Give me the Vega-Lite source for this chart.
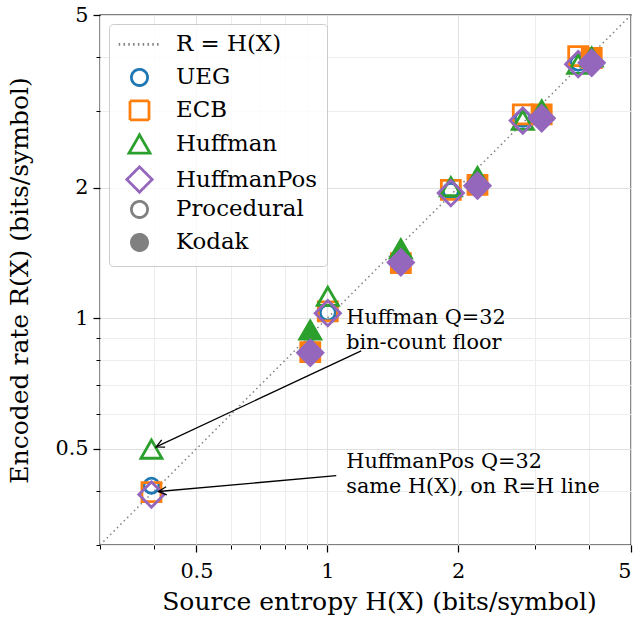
{
  "$schema": "https://vega.github.io/schema/vega-lite/v6.json",
  "width": 531,
  "height": 530,
  "autosize": {"type": "none"},
  "padding": {"left": 100, "top": 15, "right": 6, "bottom": 77},
  "background": "white",
  "config": {
    "font": "DejaVu Serif",
    "view": {"stroke": "black", "strokeWidth": 1.3},
    "axis": {
      "domain": false,
      "labelFont": "DejaVu Serif",
      "labelFontSize": 20.8,
      "labelColor": "black",
      "titleFont": "DejaVu Serif",
      "titleFontSize": 25,
      "titleFontWeight": "normal",
      "titleColor": "black",
      "tickColor": "black",
      "tickWidth": 1.25
    },
    "legend": {
      "orient": "top-left",
      "offset": 9,
      "padding": 9,
      "fillColor": "rgba(255,255,255,0.8)",
      "strokeColor": "#cccccc",
      "cornerRadius": 4,
      "labelFont": "DejaVu Serif",
      "labelFontSize": 22.9,
      "labelColor": "black",
      "rowPadding": -6,
      "gridAlign": "all",
      "labelOffset": 22,
      "symbolOffset": 7,
      "symbolStrokeWidth": 2.8
    }
  },
  "datasets": {
    "diag": [{"H": 0.3, "R": 0.3}, {"H": 5, "R": 5}],
    "points": [
      {"dataset": "Procedural", "method": "UEG", "H": 0.394, "R": 0.411},
      {"dataset": "Procedural", "method": "UEG", "H": 1.003, "R": 1.03},
      {"dataset": "Procedural", "method": "UEG", "H": 1.925, "R": 1.965},
      {"dataset": "Procedural", "method": "UEG", "H": 2.818, "R": 2.88},
      {"dataset": "Procedural", "method": "UEG", "H": 3.78, "R": 3.88},
      {"dataset": "Procedural", "method": "ECB", "H": 0.394, "R": 0.397},
      {"dataset": "Procedural", "method": "ECB", "H": 1.003, "R": 1.037},
      {"dataset": "Procedural", "method": "ECB", "H": 1.925, "R": 1.976},
      {"dataset": "Procedural", "method": "ECB", "H": 2.818, "R": 2.95},
      {"dataset": "Procedural", "method": "ECB", "H": 3.78, "R": 4.02},
      {"dataset": "Procedural", "method": "Huffman", "H": 0.394, "R": 0.499},
      {"dataset": "Procedural", "method": "Huffman", "H": 1.003, "R": 1.123},
      {"dataset": "Procedural", "method": "Huffman", "H": 1.925, "R": 2.01},
      {"dataset": "Procedural", "method": "Huffman", "H": 2.818, "R": 2.86},
      {"dataset": "Procedural", "method": "Huffman", "H": 3.78, "R": 3.85},
      {"dataset": "Procedural", "method": "HuffmanPos", "H": 0.394, "R": 0.392},
      {"dataset": "Procedural", "method": "HuffmanPos", "H": 1.003, "R": 1.027},
      {"dataset": "Procedural", "method": "HuffmanPos", "H": 1.925, "R": 1.943},
      {"dataset": "Procedural", "method": "HuffmanPos", "H": 2.818, "R": 2.855},
      {"dataset": "Procedural", "method": "HuffmanPos", "H": 3.78, "R": 3.85},
      {"dataset": "Kodak", "method": "UEG", "H": 0.914, "R": 0.85},
      {"dataset": "Kodak", "method": "UEG", "H": 1.477, "R": 1.36},
      {"dataset": "Kodak", "method": "UEG", "H": 2.217, "R": 2.04},
      {"dataset": "Kodak", "method": "UEG", "H": 3.115, "R": 2.92},
      {"dataset": "Kodak", "method": "UEG", "H": 4.06, "R": 3.92},
      {"dataset": "Kodak", "method": "ECB", "H": 0.914, "R": 0.835},
      {"dataset": "Kodak", "method": "ECB", "H": 1.477, "R": 1.34},
      {"dataset": "Kodak", "method": "ECB", "H": 2.217, "R": 2.03},
      {"dataset": "Kodak", "method": "ECB", "H": 3.115, "R": 2.95},
      {"dataset": "Kodak", "method": "ECB", "H": 4.06, "R": 3.98},
      {"dataset": "Kodak", "method": "Huffman", "H": 0.914, "R": 0.939},
      {"dataset": "Kodak", "method": "Huffman", "H": 1.477, "R": 1.445},
      {"dataset": "Kodak", "method": "Huffman", "H": 2.217, "R": 2.12},
      {"dataset": "Kodak", "method": "Huffman", "H": 3.115, "R": 3.02},
      {"dataset": "Kodak", "method": "Huffman", "H": 4.06, "R": 4.0},
      {"dataset": "Kodak", "method": "HuffmanPos", "H": 0.914, "R": 0.832},
      {"dataset": "Kodak", "method": "HuffmanPos", "H": 1.477, "R": 1.344},
      {"dataset": "Kodak", "method": "HuffmanPos", "H": 2.217, "R": 2.02},
      {"dataset": "Kodak", "method": "HuffmanPos", "H": 3.115, "R": 2.89},
      {"dataset": "Kodak", "method": "HuffmanPos", "H": 4.06, "R": 3.88}
    ],
    "keys": [
      {"key": "R = H(X)"}, {"key": "UEG"}, {"key": "ECB"}, {"key": "Huffman"},
      {"key": "HuffmanPos"}, {"key": "Procedural"}, {"key": "Kodak"}
    ],
    "notes": [
      {"H": 1.106, "R": 1.0, "label": ["Huffman Q=32", "bin-count floor"]},
      {"H": 1.106, "R": 0.4654, "label": ["HuffmanPos Q=32", "same H(X), on R=H line"]}
    ],
    "arrows": [
      {"id": 1, "x1": 1.197, "y1": 0.841, "x2": 0.404, "y2": 0.505},
      {"id": 2, "x1": 1.049, "y1": 0.4335, "x2": 0.409, "y2": 0.3985}
    ]
  },
  "layer": [
    {
      "data": {"name": "diag"},
      "mark": {"type": "line", "color": "#808080", "strokeDash": [1.5, 3.3], "strokeWidth": 1.5, "clip": true},
      "encoding": {
        "x": {"field": "H", "type": "quantitative",
          "scale": {"type": "log", "domain": [0.3, 5], "nice": false},
          "axis": {"orient": "bottom", "values": [0.3, 0.4, 0.6, 0.7, 0.8, 0.9, 3, 4], "labels": false, "tickSize": 4, "tickWidth": 1, "grid": true, "gridColor": "#ededed", "gridWidth": 1, "title": null}},
        "y": {"field": "R", "type": "quantitative",
          "scale": {"type": "log", "domain": [0.3, 5], "nice": false},
          "axis": {"orient": "left", "values": [0.3, 0.4, 0.6, 0.7, 0.8, 0.9, 3, 4], "labels": false, "tickSize": 4, "tickWidth": 1, "grid": true, "gridColor": "#ededed", "gridWidth": 1, "title": null}}
      }
    },
    {
      "data": {"name": "points"},
      "mark": {"type": "point", "strokeWidth": 2.8, "opacity": 1},
      "encoding": {
        "x": {"field": "H", "type": "quantitative",
          "scale": {"type": "log", "domain": [0.3, 5], "nice": false},
          "axis": {"orient": "bottom", "values": [0.5, 1, 2, 5], "format": "~g", "tickSize": 7, "grid": true, "gridColor": "#e0e0e0", "labelPadding": 9, "titlePadding": 9, "titleX": 279, "title": "Source entropy H(X) (bits/symbol)"}},
        "y": {"field": "R", "type": "quantitative",
          "scale": {"type": "log", "domain": [0.3, 5], "nice": false},
          "axis": {"orient": "left", "values": [0.5, 1, 2, 5], "format": "~g", "tickSize": 7, "grid": true, "gridColor": "#e0e0e0", "labelPadding": 5, "titlePadding": 22, "title": "Encoded rate R(X) (bits/symbol)"}},
        "shape": {"field": "method", "type": "nominal",
          "scale": {"domain": ["UEG", "ECB", "Huffman", "HuffmanPos"], "range": ["circle", "square", "triangle-up", "diamond"]}, "legend": null},
        "size": {"field": "method", "type": "nominal",
          "scale": {"type": "ordinal", "domain": ["UEG", "ECB", "Huffman", "HuffmanPos"], "range": [227, 361, 441, 640]}, "legend": null},
        "stroke": {"field": "method", "type": "nominal",
          "scale": {"domain": ["UEG", "ECB", "Huffman", "HuffmanPos"], "range": ["#1f77b4", "#ff7f0e", "#2ca02c", "#9467bd"]}, "legend": null},
        "fill": {
          "condition": {"test": "datum.dataset === 'Kodak'", "field": "method", "type": "nominal",
            "scale": {"domain": ["UEG", "ECB", "Huffman", "HuffmanPos"], "range": ["#1f77b4", "#ff7f0e", "#2ca02c", "#9467bd"]}, "legend": null},
          "value": "transparent"
        }
      }
    },
    {
      "data": {"name": "arrows"},
      "mark": {"type": "rule", "color": "black", "strokeWidth": 1.3},
      "encoding": {
        "x": {"field": "x1", "type": "quantitative", "scale": {"type": "log", "domain": [0.3, 5], "nice": false}, "axis": null},
        "y": {"field": "y1", "type": "quantitative", "scale": {"type": "log", "domain": [0.3, 5], "nice": false}, "axis": null},
        "x2": {"field": "x2"},
        "y2": {"field": "y2"}
      }
    },
    {
      "data": {"name": "arrows"},
      "transform": [{"filter": "datum.id === 1"}],
      "mark": {"type": "point", "shape": "M-2,-1L0,0L-2,1", "size": 64, "filled": false, "stroke": "black", "strokeWidth": 1.3, "opacity": 1, "angle": 154.7},
      "encoding": {
        "x": {"field": "x2", "type": "quantitative", "scale": {"type": "log", "domain": [0.3, 5], "nice": false}, "axis": null},
        "y": {"field": "y2", "type": "quantitative", "scale": {"type": "log", "domain": [0.3, 5], "nice": false}, "axis": null}
      }
    },
    {
      "data": {"name": "arrows"},
      "transform": [{"filter": "datum.id === 2"}],
      "mark": {"type": "point", "shape": "M-2,-1L0,0L-2,1", "size": 64, "filled": false, "stroke": "black", "strokeWidth": 1.3, "opacity": 1, "angle": 174.9},
      "encoding": {
        "x": {"field": "x2", "type": "quantitative", "scale": {"type": "log", "domain": [0.3, 5], "nice": false}, "axis": null},
        "y": {"field": "y2", "type": "quantitative", "scale": {"type": "log", "domain": [0.3, 5], "nice": false}, "axis": null}
      }
    },
    {
      "data": {"name": "notes"},
      "mark": {"type": "text", "align": "left", "baseline": "middle", "font": "DejaVu Serif", "fontSize": 20.8, "lineHeight": 25, "color": "black"},
      "encoding": {
        "x": {"field": "H", "type": "quantitative", "scale": {"type": "log", "domain": [0.3, 5], "nice": false}, "axis": null},
        "y": {"field": "R", "type": "quantitative", "scale": {"type": "log", "domain": [0.3, 5], "nice": false}, "axis": null},
        "text": {"field": "label"}
      }
    },
    {
      "data": {"name": "keys"},
      "transform": [{"filter": "false"}],
      "mark": {"type": "point", "opacity": 1},
      "encoding": {
        "shape": {"field": "key", "type": "nominal",
          "scale": {"domain": ["R = H(X)", "UEG", "ECB", "Huffman", "HuffmanPos", "Procedural", "Kodak"],
            "range": ["M-3.2,0L3.2,0", "circle", "square", "triangle-up", "diamond", "circle", "circle"]},
          "legend": {"title": null, "encode": {"labels": {"update": {
            "fontStyle": {"signal": "datum.value === 'R = H(X)' ? 'italic' : 'normal'"},
            "font": {"signal": "datum.value === 'R = H(X)' ? 'DejaVu Sans' : 'DejaVu Serif'"}}}}}},
        "stroke": {"field": "key", "type": "nominal",
          "scale": {"domain": ["R = H(X)", "UEG", "ECB", "Huffman", "HuffmanPos", "Procedural", "Kodak"],
            "range": ["#808080", "#1f77b4", "#ff7f0e", "#2ca02c", "#9467bd", "#808080", "#808080"]},
          "legend": {"title": null}},
        "fill": {"field": "key", "type": "nominal",
          "scale": {"domain": ["R = H(X)", "UEG", "ECB", "Huffman", "HuffmanPos", "Procedural", "Kodak"],
            "range": ["transparent", "transparent", "transparent", "transparent", "transparent", "transparent", "#808080"]},
          "legend": {"title": null}},
        "size": {"field": "key", "type": "nominal",
          "scale": {"type": "ordinal", "domain": ["R = H(X)", "UEG", "ECB", "Huffman", "HuffmanPos", "Procedural", "Kodak"],
            "range": [169, 260, 361, 441, 640, 260, 260]},
          "legend": {"title": null}},
        "strokeDash": {"field": "key", "type": "nominal",
          "scale": {"domain": ["R = H(X)", "UEG", "ECB", "Huffman", "HuffmanPos", "Procedural", "Kodak"],
            "range": [[1.5, 3.3], [1, 0], [1, 0], [1, 0], [1, 0], [1, 0], [1, 0]]},
          "legend": {"title": null}}
      }
    }
  ],
  "resolve": {
    "axis": {"x": "independent", "y": "independent"},
    "scale": {"shape": "independent", "size": "independent", "stroke": "independent", "fill": "independent", "strokeDash": "independent"},
    "legend": {"shape": "independent", "size": "independent", "stroke": "independent", "fill": "independent", "strokeDash": "independent"}
  }
}
